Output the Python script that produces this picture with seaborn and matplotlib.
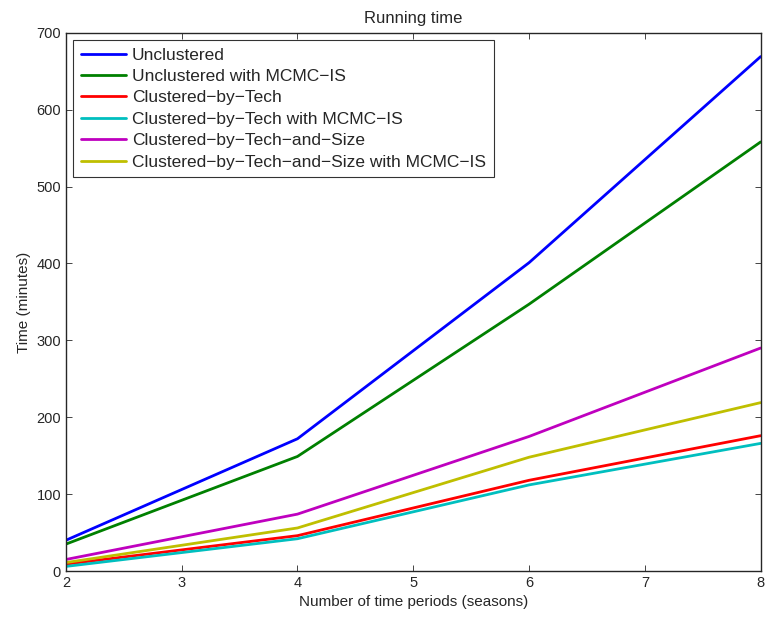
import matplotlib
matplotlib.use("Agg")
import matplotlib.pyplot as plt
import numpy as np
import pandas as pd
import seaborn as sns

# data
periods = [2, 4, 6, 8]
unclustered = [40, 172, 401, 669]
unclustered_mcmc = [35, 149, 347, 558]
clust_tech = [9, 46, 118, 176]
clust_tech_mcmc = [6, 42, 112, 166]
clust_tech_size = [15, 74, 175, 290]
clust_tech_size_mcmc = [11, 56, 148, 219]

names = ["Unclustered", "Unclustered with MCMC\u2212IS", "Clustered\u2212by\u2212Tech",
         "Clustered\u2212by\u2212Tech with MCMC\u2212IS", "Clustered\u2212by\u2212Tech\u2212and\u2212Size",
         "Clustered\u2212by\u2212Tech\u2212and\u2212Size with MCMC\u2212IS"]
series = [unclustered, unclustered_mcmc, clust_tech, clust_tech_mcmc,
          clust_tech_size, clust_tech_size_mcmc]
colors = ["#0000ff", "#008000", "#ff0000", "#00bfbf", "#bf00bf", "#bfbf00"]

rows = []
for name, vals in zip(names, series):
    for p, v in zip(periods, vals):
        rows.append({"period": p, "time": v, "method": name})
df = pd.DataFrame(rows)

sns.set_style("ticks")
plt.rcParams['font.family'] = ['Liberation Sans', 'DejaVu Sans']
plt.rcParams['xtick.direction'] = 'in'
plt.rcParams['ytick.direction'] = 'in'

fig, ax = plt.subplots(figsize=(7.66, 6.18), dpi=100)
fig.subplots_adjust(left=0.086, right=0.993, top=0.947, bottom=0.076)

sns.lineplot(data=df, x="period", y="time", hue="method", hue_order=names,
             palette=colors, linewidth=2, ax=ax)

ax.set_xlim(2, 8)
ax.set_ylim(0, 700)
ax.set_xticks(range(2, 9))
ax.set_yticks(range(0, 701, 100))
ax.tick_params(top=True, right=True, labelsize=10.5, length=4, width=0.6)
for s in ax.spines.values():
    s.set_linewidth(1.0)
ax.set_xlabel("Number of time periods (seasons)", fontsize=11)
ax.set_ylabel("Time (minutes)", fontsize=11)
ax.set_title("Running time", fontsize=12, pad=7)

leg = ax.legend(loc="upper left", fontsize=12.5, frameon=True, fancybox=False,
                edgecolor="black", borderpad=0.45, labelspacing=0.36,
                handlelength=2.6, handletextpad=0.35, borderaxespad=0.4)
leg.get_frame().set_linewidth(0.8)

plt.savefig("out.png", dpi=100)
